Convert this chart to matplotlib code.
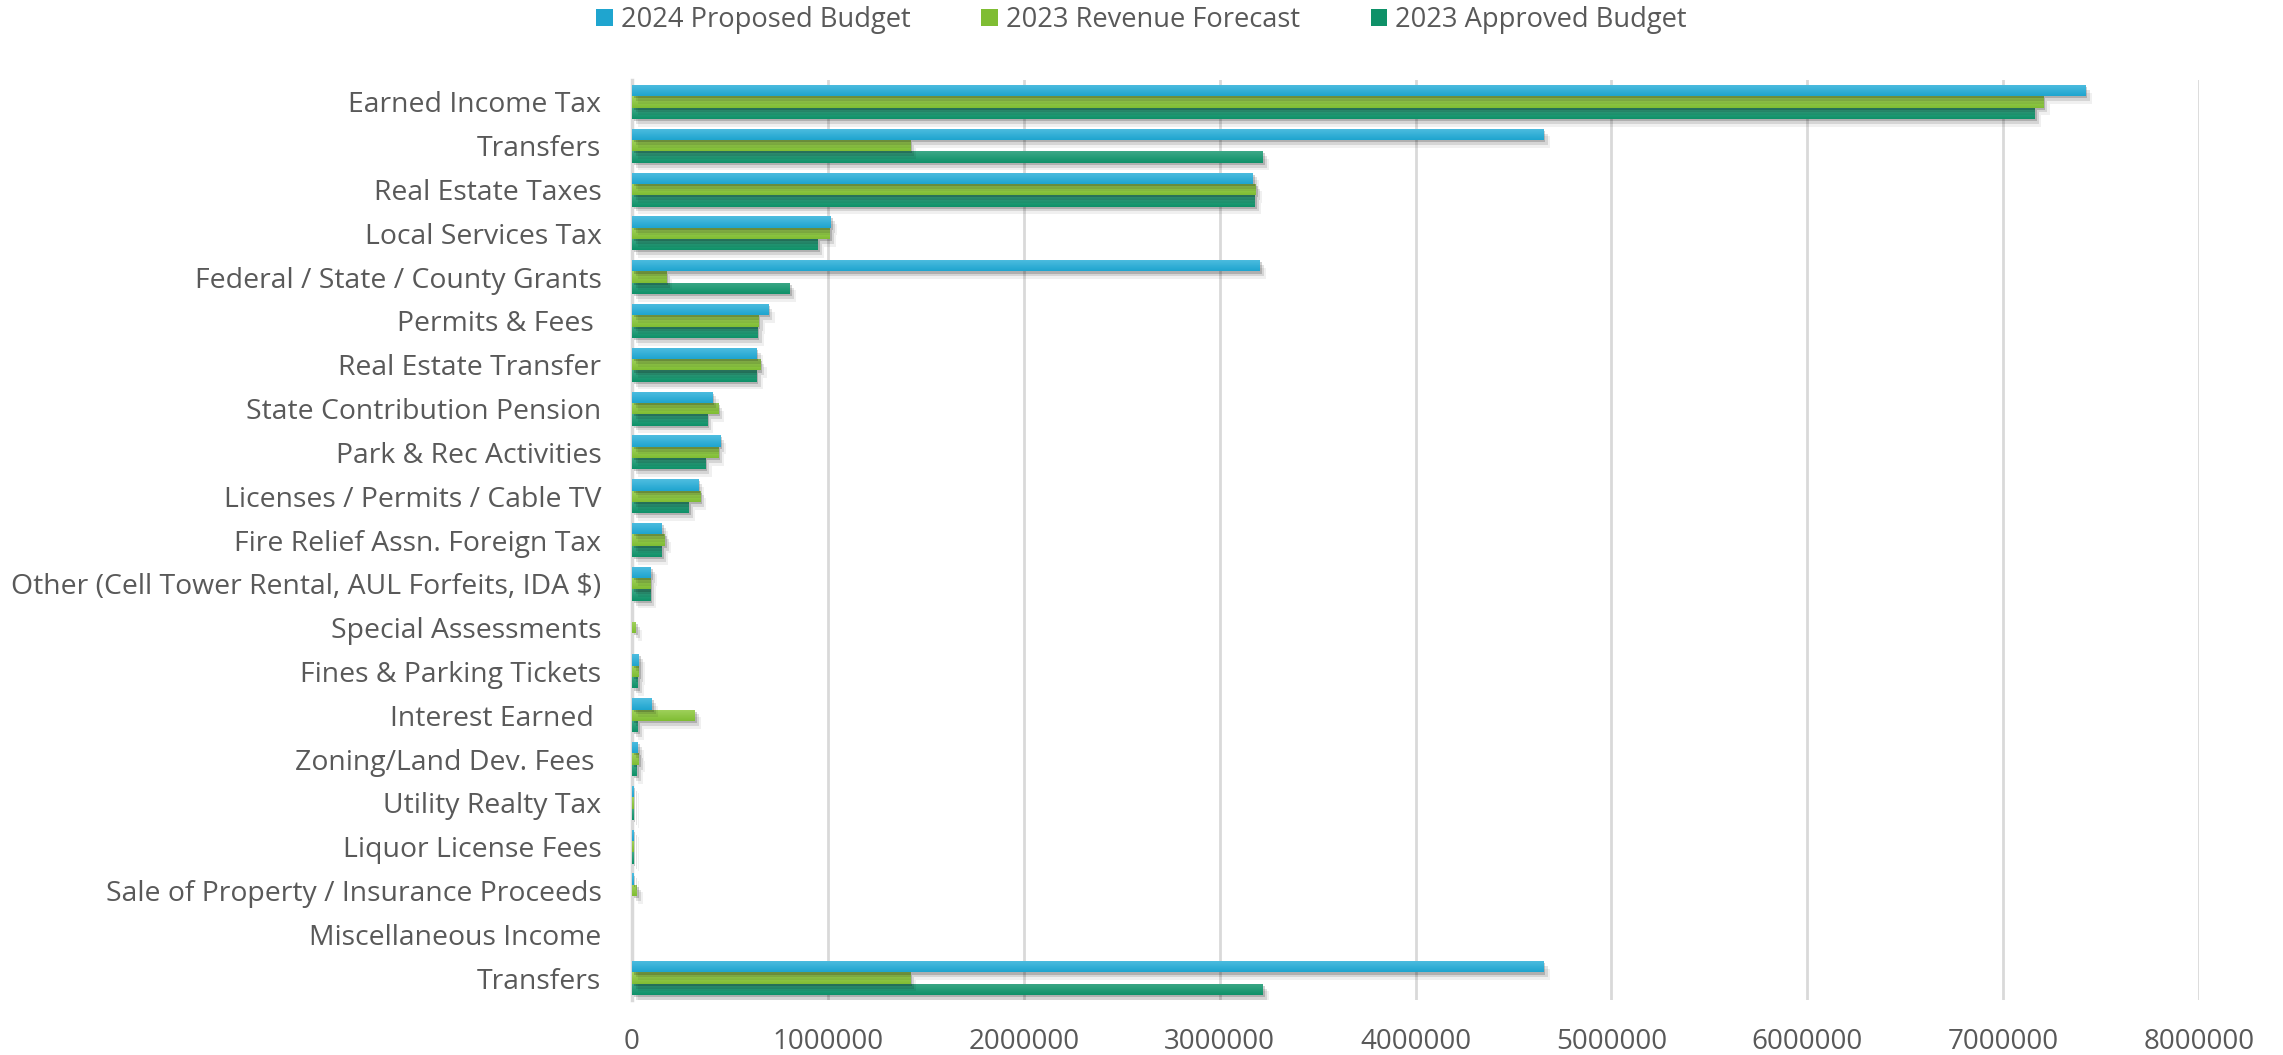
import numpy as np
import matplotlib
matplotlib.use("Agg")
import matplotlib.pyplot as plt
import matplotlib.patheffects as pe
from matplotlib.colors import LinearSegmentedColormap
from matplotlib.patches import Patch

# Revenue lines, top to bottom
categories = [
    "Earned Income Tax",
    "Transfers",
    "Real Estate Taxes",
    "Local Services Tax",
    "Federal / State / County Grants",
    "Permits & Fees ",
    "Real Estate Transfer",
    "State Contribution Pension",
    "Park & Rec Activities",
    "Licenses / Permits / Cable TV",
    "Fire Relief Assn. Foreign Tax",
    "Other (Cell Tower Rental, AUL Forfeits, IDA $)",
    "Special Assessments",
    "Fines & Parking Tickets",
    "Interest Earned ",
    "Zoning/Land Dev. Fees ",
    "Utility Realty Tax",
    "Liquor License Fees",
    "Sale of Property / Insurance Proceeds",
    "Miscellaneous Income",
    "Transfers",
]

proposed_2024 = [7420000, 4653000, 3170000, 1013000, 3205000, 696000, 635000,
                 410000, 450000, 338000, 153000, 97000, 0, 33000, 100000,
                 28000, 6000, 6000, 6000, 0, 4653000]
forecast_2023 = [7205000, 1420000, 3185000, 1008000, 174000, 645000, 655000,
                 440000, 440000, 348000, 168000, 92000, 18000, 33000, 320000,
                 33000, 6000, 6000, 25000, 0, 1420000]
approved_2023 = [7160000, 3220000, 3180000, 947000, 804000, 640000, 635000,
                 384000, 374000, 290000, 153000, 92000, 0, 28000, 28000,
                 23000, 6000, 6000, 0, 0, 3220000]

series_names = ["2024 Proposed Budget", "2023 Revenue Forecast", "2023 Approved Budget"]
x_ticks = [0, 1000000, 2000000, 3000000, 4000000, 5000000, 6000000, 7000000, 8000000]

plt.rcParams["font.family"] = ["Open Sans", "DejaVu Sans"]
text_color = "#595959"
grid_color = "#d9d9d9"

# (top shade, base shade) for each series gradient
blue = ("#4fbde0", "#1fa5cf")
green = ("#a2d25e", "#7fbd33")
teal = ("#3ea888", "#0e9168")

fig = plt.figure(figsize=(22.83, 10.55), dpi=100)
ax = fig.add_axes([632 / 2283, 1 - 1000 / 1055, (2199 - 632) / 2283, 920 / 1055])

y = np.arange(len(categories))
h = 0.259

shadow = [
    pe.SimplePatchShadow(offset=(1.5, -1.5), shadow_rgbFace="black", alpha=0.18),
    pe.SimplePatchShadow(offset=(3, -3.5), shadow_rgbFace="black", alpha=0.11),
    pe.SimplePatchShadow(offset=(4.5, -5.5), shadow_rgbFace="black", alpha=0.06),
    pe.Normal(),
]

# drawn bottom-up so each bar's shadow falls onto the bar beneath it
layers = [
    (approved_2023, +h, teal),
    (forecast_2023, 0.0, green),
    (proposed_2024, -h, blue),
]
grad = np.linspace(0, 1, 64).reshape(-1, 1)
z = 3
for vals, off, (c_top, c_base) in layers:
    bars = ax.barh(y + off, vals, height=h, color=c_base, linewidth=0,
                   zorder=z, path_effects=shadow)
    cmap = LinearSegmentedColormap.from_list("shade", [c_top, c_base])
    for b in bars:
        w = b.get_width()
        if w <= 0:
            continue
        y0 = b.get_y()
        bh = b.get_height()
        im = ax.imshow(grad, cmap=cmap, extent=(0, w, y0 + bh, y0),
                       origin="upper", aspect="auto", interpolation="bilinear",
                       zorder=z + 0.5)
        im.set_clip_path(b)
    z += 1

ax.set_xlim(0, 8000000)
ax.set_ylim(len(categories) - 0.5, -0.5)
ax.set_aspect("auto")

ax.set_yticks(y)
ax.set_yticklabels(categories)
ax.set_xticks(x_ticks)
ax.set_xticklabels([str(v) for v in x_ticks])

ax.tick_params(axis="y", length=0, pad=22, labelsize=20.4, labelcolor=text_color)
ax.tick_params(axis="x", length=0, pad=20, labelsize=20, labelcolor=text_color)

ax.xaxis.grid(True, color=grid_color, linewidth=2)
ax.set_axisbelow(True)
for side in ["top", "right", "bottom"]:
    ax.spines[side].set_visible(False)
ax.spines["left"].set_color(grid_color)
ax.spines["left"].set_linewidth(2.5)
ax.spines["left"].set_zorder(2)

handles = [Patch(facecolor=c[1], edgecolor="none") for c in (blue, green, teal)]
fig.legend(handles, series_names, loc="center", bbox_to_anchor=(0.5, 1 - 20 / 1055),
           ncol=3, frameon=False, fontsize=19.6, labelcolor=text_color,
           handlelength=0.6, handleheight=0.6, handletextpad=0.3,
           columnspacing=2.6)

fig.savefig("out.png", dpi=100, facecolor="white")
